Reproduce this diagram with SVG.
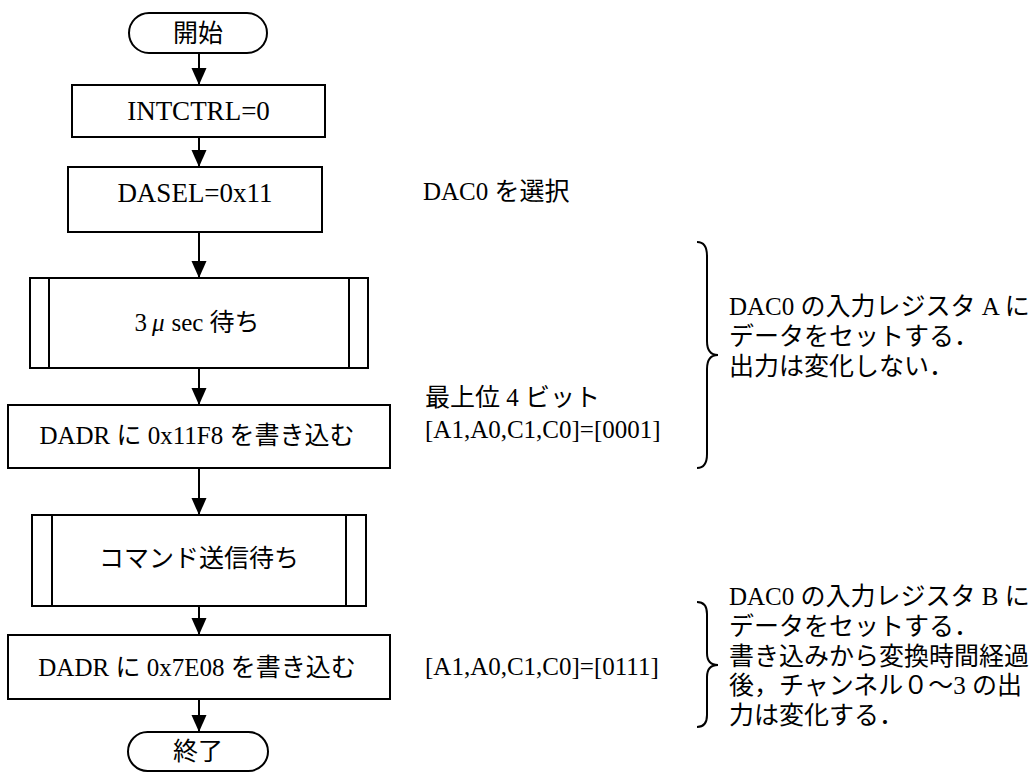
<svg xmlns="http://www.w3.org/2000/svg" width="1032" height="772" viewBox="0 0 1032 772">
  <style>
    .shape { fill: #ffffff; stroke: #000000; stroke-width: 2; }
    .line { fill: none; stroke: #000000; stroke-width: 2; }
    .t { font-family: "Liberation Serif", "Noto Sans CJK JP", serif; font-size: 25px; fill: #000000; }
    .tc { text-anchor: middle; }
    .big { font-size: 27px; }
  </style>
  <defs>
    <marker id="arrow" markerUnits="userSpaceOnUse" markerWidth="18" markerHeight="18" viewBox="0 0 18 18" refX="17" refY="9" orient="auto">
      <path d="M0,1.5 L17,9 L0,16.5 Z" fill="#000000"/>
    </marker>
  </defs>
  <rect width="1032" height="772" fill="#ffffff"/>

  <!-- flow connectors -->
  <g id="connectors">
    <line class="line" x1="199" y1="53" x2="199" y2="85" marker-end="url(#arrow)"/>
    <line class="line" x1="199" y1="137" x2="199" y2="167" marker-end="url(#arrow)"/>
    <line class="line" x1="199" y1="232" x2="199" y2="278" marker-end="url(#arrow)"/>
    <line class="line" x1="199" y1="368" x2="199" y2="405" marker-end="url(#arrow)"/>
    <line class="line" x1="199" y1="468" x2="199" y2="515" marker-end="url(#arrow)"/>
    <line class="line" x1="199" y1="606" x2="199" y2="635" marker-end="url(#arrow)"/>
    <line class="line" x1="199" y1="699" x2="199" y2="732" marker-end="url(#arrow)"/>
  </g>

  <g id="start">
    <rect class="shape" x="129" y="13" width="138" height="40" rx="20" ry="20"/>
    <text class="t tc" x="198" y="42">開始</text>
  </g>

  <g id="intctrl">
    <rect class="shape" x="72" y="85" width="253" height="52"/>
    <text class="t tc big" x="198.5" y="120">INTCTRL=0</text>
  </g>

  <g id="dasel">
    <rect class="shape" x="68" y="167" width="254" height="65"/>
    <text class="t tc big" x="195" y="202">DASEL=0x11</text>
  </g>

  <g id="wait3us">
    <rect class="shape" x="30" y="278" width="338" height="90"/>
    <line class="line" x1="49" y1="278" x2="49" y2="368"/>
    <line class="line" x1="349" y1="278" x2="349" y2="368"/>
    <text class="t tc" x="197" y="331">3<tspan dx="5" font-style="italic">μ</tspan><tspan dx="7">sec 待ち</tspan></text>
  </g>

  <g id="write-a">
    <rect class="shape" x="8" y="405" width="382" height="63"/>
    <text class="t tc" x="197" y="444">DADR に 0x11F8 を書き込む</text>
  </g>

  <g id="wait-cmd">
    <rect class="shape" x="32" y="515" width="334" height="91"/>
    <line class="line" x1="52" y1="515" x2="52" y2="606"/>
    <line class="line" x1="346" y1="515" x2="346" y2="606"/>
    <text class="t tc" x="199" y="567">コマンド送信待ち</text>
  </g>

  <g id="write-b">
    <rect class="shape" x="8" y="635" width="382" height="64"/>
    <text class="t tc" x="197" y="676">DADR に 0x7E08 を書き込む</text>
  </g>

  <g id="end">
    <rect class="shape" x="128" y="732" width="140" height="39" rx="19.5" ry="19.5"/>
    <text class="t tc" x="198" y="760">終了</text>
  </g>

  <!-- side notes -->
  <g id="note-dasel">
    <text class="t" x="423" y="200">DAC0 を選択</text>
  </g>

  <g id="note-bits-a">
    <text class="t" x="425" y="406">最上位 4 ビット</text>
    <text class="t" x="425" y="438">[A1,A0,C1,C0]=[0001]</text>
  </g>

  <g id="note-bits-b">
    <text class="t" x="425" y="675">[A1,A0,C1,C0]=[0111]</text>
  </g>

  <g id="brace-a">
    <path class="line" d="M697,242 Q707,242 707,256 L707,341 Q707,355 718,355 Q707,355 707,369 L707,454 Q707,468 697,468"/>
    <text class="t" x="729" y="315">DAC0 の入力レジスタ A に</text>
    <text class="t" x="729" y="345">データをセットする．</text>
    <text class="t" x="729" y="375">出力は変化しない．</text>
  </g>

  <g id="brace-b">
    <path class="line" d="M697,602 Q707,602 707,614 L707,653 Q707,665 718,665 Q707,665 707,677 L707,715 Q707,727 697,727"/>
    <text class="t" x="729" y="605">DAC0 の入力レジスタ B に</text>
    <text class="t" x="729" y="635">データをセットする．</text>
    <text class="t" x="729" y="665">書き込みから変換時間経過</text>
    <text class="t" x="729" y="694">後，チャンネル０～3 の出</text>
    <text class="t" x="729" y="724">力は変化する．</text>
  </g>
</svg>
